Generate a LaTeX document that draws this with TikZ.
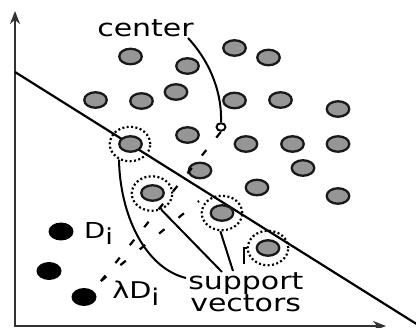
\documentclass[tikz,border=0pt]{standalone}
\usepackage{fontspec}
\setmainfont{DejaVu Sans}
\usetikzlibrary{shapes.geometric,arrows.meta}
\definecolor{dotgray}{RGB}{150,150,150}
\definecolor{axisgray}{RGB}{50,50,50}
\begin{document}
\begin{tikzpicture}[x=1pt,y=-1pt,
  dot/.style={ellipse,draw=black!90,line width=2.3pt,fill=dotgray,minimum width=22.5pt,minimum height=15.5pt,inner sep=0pt},
  bdot/.style={ellipse,fill=black,minimum width=25pt,minimum height=18pt,inner sep=0pt},
  ring/.style={ellipse,draw=black,line width=2.2pt,dash pattern=on 2pt off 2.4pt,minimum width=40.5pt,minimum height=34.5pt,inner sep=0pt},
  lbl/.style={font=\fontsize{24}{24}\selectfont,xscale=1.25,inner sep=0pt,anchor=base west},
  sub/.style={inner sep=0pt,anchor=base west,xscale=1.25},
  conn/.style={line width=2pt},
  dshA/.style={line width=2.2pt,dash pattern=on 7pt off 16pt},
  dshB/.style={line width=2.2pt,dash pattern=on 7pt off 18pt}]
\useasboundingbox (0,0) rectangle (416,328);
% axes
\coordinate (O) at (15,326);
\coordinate (ytip) at (15,11);
\coordinate (xtip) at (386,326);
\draw[axisgray,line width=2.6pt,{Stealth[length=13pt,width=10pt]}-{Stealth[length=13pt,width=10pt]}] (ytip) -- (O) -- (xtip);
% hyperplane
\coordinate (h1) at (15,72);
\coordinate (h2) at (417,324.3);
\draw[line width=2.2pt] (h1) -- (h2);
% gray dots
\node[dot] (g1) at (130.5,56.5) {};
\node[dot] (g2) at (187.5,66) {};
\node[dot] (g3) at (234.5,48) {};
\node[dot] (g4) at (268.5,57.5) {};
\node[dot] (g5) at (95.5,100) {};
\node[dot] (g6) at (141.5,101) {};
\node[dot] (g7) at (176,92) {};
\node[dot] (g8) at (234.5,100.5) {};
\node[dot] (g9) at (280.5,100) {};
\node[dot] (g10) at (338,109) {};
\node[dot] (g11) at (187.5,135) {};
\node[dot] (g12) at (246,144) {};
\node[dot] (g13) at (292.5,144) {};
\node[dot] (g14) at (338,144) {};
\node[dot] (g15) at (200,170.5) {};
\node[dot] (g16) at (303,168) {};
\node[dot] (g17) at (257,187.5) {};
\node[dot] (g18) at (338,196) {};
% support vectors
\node[dot] (sv1) at (130.5,144) {};
\node[dot] (sv2) at (152.5,193) {};
\node[dot] (sv3) at (222,213) {};
\node[dot] (sv4) at (268,248) {};
\node[ring] (ring1) at (130,144) {};
\node[ring] (ring2) at (152,193.5) {};
\node[ring] (ring3) at (222,213) {};
\node[ring] (ring4) at (268,248) {};
% black dots
\node[bdot] (b1) at (61,231.5) {};
\node[bdot] (b2) at (49,271) {};
\node[bdot] (b3) at (84,297) {};
% center
\node[ellipse,draw,line width=2pt,fill=white,minimum width=9pt,minimum height=7.5pt,inner sep=0pt] (cen) at (221,127) {};
\node[lbl] (ctext) at (97,37) {center};
\coordinate (cs) at (188,38);
\draw[conn] (cs) .. controls (212,64) and (222,95) .. (cen.north);
% dashed lines
\coordinate (lam) at (101,281);
\coordinate (l2end) at (199,201);
\draw[dshA] (lam) -- (cen.south);
\draw[dshB] (lam) -- (l2end);
% labels
\node[sub,font=\fontsize{22}{22}\selectfont] (dlab) at (84,238.5) {D\raisebox{-6pt}{i}};
\node[sub,font=\fontsize{23}{23}\selectfont] (llab) at (112,298.5) {λD\raisebox{-7pt}{i}};
\node[lbl] (sup) at (188,290) {support};
\node[lbl] (vec) at (190,312) {vectors};
% support connectors
\coordinate (s1) at (186,278);
\coordinate (s2) at (222,272);
\coordinate (s3) at (233,271);
\coordinate (s4) at (244,264);
\draw[conn] (ring1.235) .. controls (120,215) and (145,268) .. (s1);
\draw[conn] (ring2.300) -- (s2);
\draw[conn] (ring3.265) -- (s3);
\draw[conn] (s4) -- (s4 |- ring4.west) -- (ring4.west);
\end{tikzpicture}
\end{document}
